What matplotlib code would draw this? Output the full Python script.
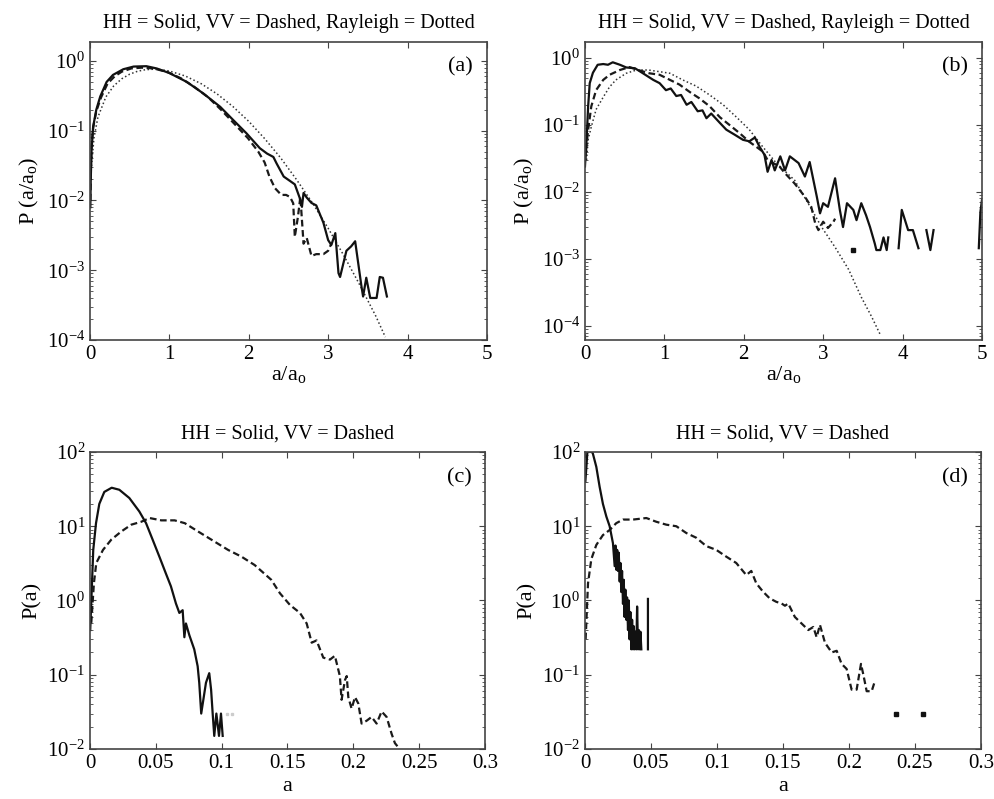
import numpy as np
import matplotlib
matplotlib.use('Agg')
import matplotlib.pyplot as plt

nan = np.nan

# ---- panel (a): normalised amplitude, HH / VV / Rayleigh ----
xa_hh = [0.005, 0.01, 0.02, 0.04, 0.08, 0.13, 0.21, 0.29, 0.42, 0.55,
         0.71, 0.84, 1.0, 1.22, 1.43, 1.64, 1.81, 1.97, 2.14, 2.23,
         2.31, 2.35, 2.44, 2.52, 2.58, 2.64, 2.67, 2.69, 2.73, 2.79,
         2.85, 2.94, 3.0, 3.04, 3.09, 3.13, 3.15, 3.23, 3.29, 3.34,
         3.42, 3.44, 3.48, 3.53, 3.61, 3.65, 3.69, 3.74]
ya_hh = [0.008, 0.02, 0.053, 0.114, 0.2, 0.31, 0.5, 0.63, 0.76, 0.83,
         0.84, 0.78, 0.67, 0.5, 0.34, 0.22, 0.14, 0.092, 0.056, 0.047,
         0.042, 0.034, 0.022, 0.019, 0.017, 0.011, 0.0081, 0.0128, 0.011, 0.0092,
         0.0085, 0.0048, 0.0027, 0.0023, 0.0034, 0.00091, 0.0008, 0.0019, 0.0022, 0.0026,
         0.00058, 0.00042, 0.00078, 0.0004, 0.0004, 0.0008, 0.00078, 0.00042]
xa_vv = [0.005, 0.01, 0.02, 0.04, 0.08, 0.14, 0.22, 0.31, 0.4, 0.52,
         0.65, 0.8, 0.98, 1.15, 1.32, 1.49, 1.65, 1.82, 1.99, 2.12,
         2.2, 2.26, 2.33, 2.41, 2.47, 2.52, 2.56, 2.58, 2.62, 2.65,
         2.69, 2.73, 2.79, 2.85, 2.94, 3.0, 3.04]
ya_vv = [0.01, 0.025, 0.06, 0.11, 0.19, 0.3, 0.47, 0.6, 0.7, 0.78,
         0.8, 0.78, 0.69, 0.56, 0.42, 0.3, 0.2, 0.125, 0.078, 0.05,
         0.035, 0.022, 0.015, 0.012, 0.012, 0.0112, 0.0091, 0.003, 0.0059, 0.0113,
         0.0024, 0.0029, 0.0016, 0.0017, 0.0017, 0.0019, 0.0024]
xa_ray = [0.02, 0.05, 0.1, 0.2, 0.3, 0.4, 0.5, 0.6, 0.7, 0.8, 0.9, 1.0, 1.2,
          1.4, 1.6, 1.8, 2.0, 2.2, 2.4, 2.6, 2.8, 3.0, 3.2, 3.4, 3.6, 3.72]
ya_ray = [0.031, 0.078, 0.156, 0.304, 0.439, 0.554, 0.645, 0.711, 0.749, 0.76,
          0.748, 0.716, 0.608, 0.472, 0.337, 0.222, 0.136, 0.077, 0.041, 0.020,
          0.0093, 0.0040, 0.0016, 0.00061, 0.00022, 0.00011]

# ---- panel (b) ----
xb_hh = [0.0, 0.02, 0.04, 0.06, 0.1, 0.16, 0.23, 0.29, 0.35, 0.44,
         0.52, 0.63, 0.73, 0.86, 0.94, 1.02, 1.08, 1.15, 1.21, 1.28,
         1.34, 1.42, 1.48, 1.53, 1.59, 1.70, 1.78, 1.89, 1.99, 2.07,
         2.14, 2.20, 2.26, 2.30, 2.35, 2.39, 2.46, 2.52, 2.58, 2.69,
         2.77, 2.83, 2.92, 2.96, 3.0, 3.06, 3.15, 3.21, 3.25, 3.30,
         3.38, 3.42, 3.48, 3.54, 3.59, 3.65, 3.67, 3.72, 3.76, 3.80,
         3.82, nan, 3.95, 3.99, 4.07, 4.13, 4.20, nan, 4.30, 4.35,
         4.39, nan, 4.96, 4.98, 5.0]
yb_hh = [0.024, 0.06, 0.19, 0.42, 0.6, 0.79, 0.81, 0.79, 0.86, 0.79,
         0.72, 0.70, 0.59, 0.47, 0.42, 0.33, 0.35, 0.27, 0.28, 0.2,
         0.22, 0.16, 0.165, 0.126, 0.148, 0.107, 0.085, 0.071, 0.06, 0.057,
         0.065, 0.047, 0.036, 0.02, 0.03, 0.021, 0.034, 0.021, 0.034, 0.027,
         0.017, 0.028, 0.0085, 0.0048, 0.0068, 0.006, 0.016, 0.0054, 0.003, 0.0068,
         0.0054, 0.0038, 0.0068, 0.0045, 0.003, 0.0017, 0.00136, 0.00136, 0.0021, 0.00136,
         0.0021, nan, 0.00145, 0.0054, 0.0027, 0.0027, 0.00145, nan, 0.0027, 0.00136,
         0.0027, nan, 0.00145, 0.005, 0.0076]
xb_dot = [3.38]
yb_dot = [0.00136]
xb_vv = [0.0, 0.04, 0.08, 0.14, 0.23, 0.31, 0.44, 0.56, 0.67, 0.81,
         0.94, 1.07, 1.19, 1.32, 1.44, 1.57, 1.70, 1.82, 1.95, 2.07,
         2.16, 2.24, 2.30, 2.37, 2.45, 2.52, 2.64, 2.77, 2.85, 2.90,
         2.94, 3.0, 3.06, 3.13, 3.15]
yb_vv = [0.03, 0.085, 0.19, 0.33, 0.47, 0.56, 0.66, 0.73, 0.66, 0.59,
         0.56, 0.47, 0.4, 0.31, 0.25, 0.19, 0.13, 0.1, 0.075, 0.056,
         0.047, 0.04, 0.03, 0.027, 0.024, 0.019, 0.0134, 0.0085, 0.006, 0.0034,
         0.0027, 0.0036, 0.0029, 0.0036, 0.004]
xb_ray = [0.02, 0.04, 0.08, 0.14, 0.23, 0.31, 0.39, 0.52, 0.65, 0.8,
          1.07, 1.23, 1.40, 1.57, 1.74, 1.91, 2.07, 2.24, 2.41, 2.64,
          2.81, 2.98, 3.15, 3.32, 3.48, 3.61, 3.72]
yb_ray = [0.03, 0.06, 0.094, 0.17, 0.26, 0.37, 0.47, 0.59, 0.66, 0.66,
          0.59, 0.47, 0.38, 0.28, 0.2, 0.13, 0.085, 0.047, 0.027, 0.015,
          0.0068, 0.003, 0.0015, 0.0007, 0.00027, 0.000138, 0.000074]

# ---- panel (c): absolute amplitude ----
xc_hh = [0.0002, 0.0025, 0.0046, 0.0071, 0.0109, 0.0165, 0.0223, 0.0299, 0.0375, 0.0426,
         0.0476, 0.0527, 0.0577, 0.0615, 0.0653, 0.0679, 0.0704, 0.0717, 0.0729, 0.0755,
         0.0792, 0.0818, 0.083, 0.0845, 0.0881, 0.0906, 0.092, 0.0932, 0.0944, 0.096,
         0.098, 0.0995, 0.1008]
yc_hh = [0.4, 4.8, 11, 20, 29, 33, 31, 24, 15.8, 11,
         6.6, 3.9, 2.3, 1.55, 0.91, 0.68, 0.74, 0.32, 0.49, 0.34,
         0.22, 0.13, 0.078, 0.03, 0.078, 0.105, 0.063, 0.03, 0.015, 0.03,
         0.015, 0.03, 0.015]
xc_vv = [0.001, 0.003, 0.0048, 0.0099, 0.0162, 0.0238, 0.0314, 0.039, 0.0453, 0.0542,
         0.0643, 0.072, 0.0821, 0.0922, 0.1049, 0.115, 0.1251, 0.1377, 0.1443, 0.1519,
         0.1595, 0.1646, 0.1684, 0.1721, 0.1772, 0.1823, 0.186, 0.1898, 0.1911, 0.1937,
         0.195, 0.1962, 0.1987, 0.2013, 0.2038, 0.2063, 0.2101, 0.2139, 0.2177, 0.2215,
         0.2253, 0.2291, 0.2316, 0.2342]
yc_vv = [0.5, 1.7, 3.2, 4.8, 6.6, 8.5, 10.5, 11.5, 12.9, 12,
         12, 11, 8.5, 6.6, 4.8, 3.9, 3.0, 1.9, 1.25, 0.87,
         0.68, 0.49, 0.27, 0.29, 0.17, 0.16, 0.18, 0.096, 0.046, 0.085,
         0.096, 0.05, 0.035, 0.05, 0.041, 0.022, 0.024, 0.027, 0.022, 0.032,
         0.027, 0.016, 0.012, 0.0105]
xc_faint = [0.104, 0.108]
yc_faint = [0.03, 0.03]

# ---- panel (d) ----
xd_hh = [0.0003, 0.002, 0.004, 0.006, 0.0086, 0.0111, 0.0136, 0.0162, 0.0187, 0.0212,
         0.0225, 0.0231, 0.0237, 0.0244, 0.025, 0.0256, 0.0263, 0.0269, 0.0275, 0.0281,
         0.0288, 0.0294, 0.03, 0.0306, 0.0313, 0.0319, 0.0326, 0.0332, 0.0338, 0.0344,
         0.0351, 0.0357, 0.0364, 0.037, 0.0376, 0.0382, 0.0389, 0.0395, 0.0402, 0.0408,
         0.0414, 0.042, 0.0427, nan, 0.0477, 0.0477]
yd_hh = [40, 110, 110, 95, 63, 34, 20, 13.5, 10, 5.9,
         2.9, 5.5, 2.6, 4.8, 2.5, 4.4, 1.8, 3.2, 1.3, 2.5,
         0.9, 1.9, 0.6, 1.4, 0.55, 1.1, 0.4, 1.0, 0.3, 0.7,
         0.22, 0.55, 0.22, 0.45, 0.22, 0.38, 0.22, 0.83, 0.22, 0.4,
         0.22, 0.38, 0.22, nan, 0.22, 1.05]
xd_vv = [0.0005, 0.0023, 0.0048, 0.0086, 0.0136, 0.0187, 0.0237, 0.0288, 0.0364, 0.0465,
         0.054, 0.0616, 0.0692, 0.0768, 0.0843, 0.0919, 0.0995, 0.107, 0.1146, 0.1222,
         0.126, 0.1298, 0.1348, 0.1399, 0.1449, 0.149, 0.1515, 0.154, 0.159, 0.1641,
         0.1692, 0.173, 0.1755, 0.178, 0.1818, 0.1869, 0.1907, 0.1944, 0.1982, 0.202,
         0.2058, 0.2091, 0.2109, 0.2134, 0.2172, 0.2197]
yd_vv = [0.3, 1.7, 3.6, 5.6, 7.6, 8.9, 11, 12.3, 12.3, 12.9,
         11.5, 10.5, 10, 8.1, 7, 5.4, 4.8, 3.9, 3.2, 2.2,
         2.5, 1.7, 1.32, 1.07, 0.96, 0.91, 0.85, 0.91, 0.6, 0.49,
         0.4, 0.44, 0.32, 0.47, 0.27, 0.2, 0.21, 0.14, 0.12, 0.063,
         0.063, 0.14, 0.1, 0.06, 0.06, 0.083]
xd_dot = [0.2354, 0.2558]
yd_dot = [0.03, 0.03]

title_ab = 'HH = Solid, VV = Dashed, Rayleigh = Dotted'
title_cd = 'HH = Solid, VV = Dashed'

plt.rcParams.update({
    'font.family': 'Liberation Serif',
    'mathtext.fontset': 'custom',
    'mathtext.rm': 'Liberation Serif',
    'mathtext.it': 'Liberation Serif:italic',
    'xtick.direction': 'in', 'ytick.direction': 'in',
    'xtick.top': True, 'ytick.right': True,
    'xtick.major.size': 4, 'ytick.major.size': 4,
    'xtick.minor.size': 2, 'ytick.minor.size': 2,
    'xtick.labelsize': 15, 'ytick.labelsize': 15,
    'axes.edgecolor': '#444444', 'axes.linewidth': 1.2,
    'xtick.color': '#444444', 'ytick.color': '#444444',
    'xtick.labelcolor': 'black', 'ytick.labelcolor': 'black',
})

fig = plt.figure(figsize=(9.94, 7.99), dpi=100)
ax_a = fig.add_axes([0.0905, 0.5745, 0.3994, 0.373])
ax_b = fig.add_axes([0.5885, 0.5745, 0.3994, 0.373])
ax_c = fig.add_axes([0.0905, 0.0626, 0.3974, 0.3717])
ax_d = fig.add_axes([0.5885, 0.0626, 0.3984, 0.3717])

solid = dict(color='#111111', lw=1.6, ls='-')
dashed = dict(color='#1a1a1a', lw=1.6, ls=(0, (3, 1.6)))
dotted = dict(color='#333333', lw=1.1, ls=(0, (1, 1.6)))

ax_a.plot(xa_ray, ya_ray, **dotted)
ax_a.plot(xa_vv, ya_vv, **dashed)
ax_a.plot(xa_hh, ya_hh, **solid)

ax_b.plot(xb_ray, yb_ray, **dotted)
ax_b.plot(xb_vv, yb_vv, **dashed)
ax_b.plot(xb_hh, yb_hh, **solid)
ax_b.plot(xb_dot, yb_dot, 's', color='#111111', ms=2.5)

ax_c.plot(xc_vv, yc_vv, **dashed)
ax_c.plot(xc_hh, yc_hh, **solid)
ax_c.plot(xc_faint, yc_faint, 's', color='#cccccc', ms=1.5)

ax_d.plot(xd_vv, yd_vv, **dashed)
ax_d.plot(xd_hh, yd_hh, **solid)
ax_d.plot(xd_dot, yd_dot, 's', color='#111111', ms=2.5)

for ax, lab, ylim in [(ax_a, '(a)', (1e-4, 1.87)), (ax_b, '(b)', (6.2e-5, 1.73))]:
    ax.set_yscale('log')
    ax.set_xlim(0, 5)
    ax.set_ylim(*ylim)
    ax.set_xticks([0, 1, 2, 3, 4, 5])
    ax.set_title(title_ab, fontsize=14.5, pad=10)
    ax.set_xlabel('a/a$_{\\rm o}$', fontsize=16, labelpad=0)
    ax.set_ylabel('P (a/a$_{\\rm o}$)', fontsize=16, labelpad=4)
    ax.text(0.965, 0.95, lab, transform=ax.transAxes, ha='right', va='top', fontsize=16)

for ax, lab in [(ax_c, '(c)'), (ax_d, '(d)')]:
    ax.set_yscale('log')
    ax.set_xlim(0, 0.3)
    ax.set_ylim(1e-2, 1e2)
    ax.set_xticks([0, 0.05, 0.1, 0.15, 0.2, 0.25, 0.3])
    ax.set_xticklabels(['0', '0.05', '0.1', '0.15', '0.2', '0.25', '0.3'])
    ax.set_title(title_cd, fontsize=14.5, pad=10)
    ax.set_xlabel('a', fontsize=16, labelpad=3)
    ax.set_ylabel('P(a)', fontsize=16, labelpad=4)
    ax.text(0.967, 0.946, lab, transform=ax.transAxes, ha='right', va='top', fontsize=16)

fig.savefig('out.png', dpi=100)
